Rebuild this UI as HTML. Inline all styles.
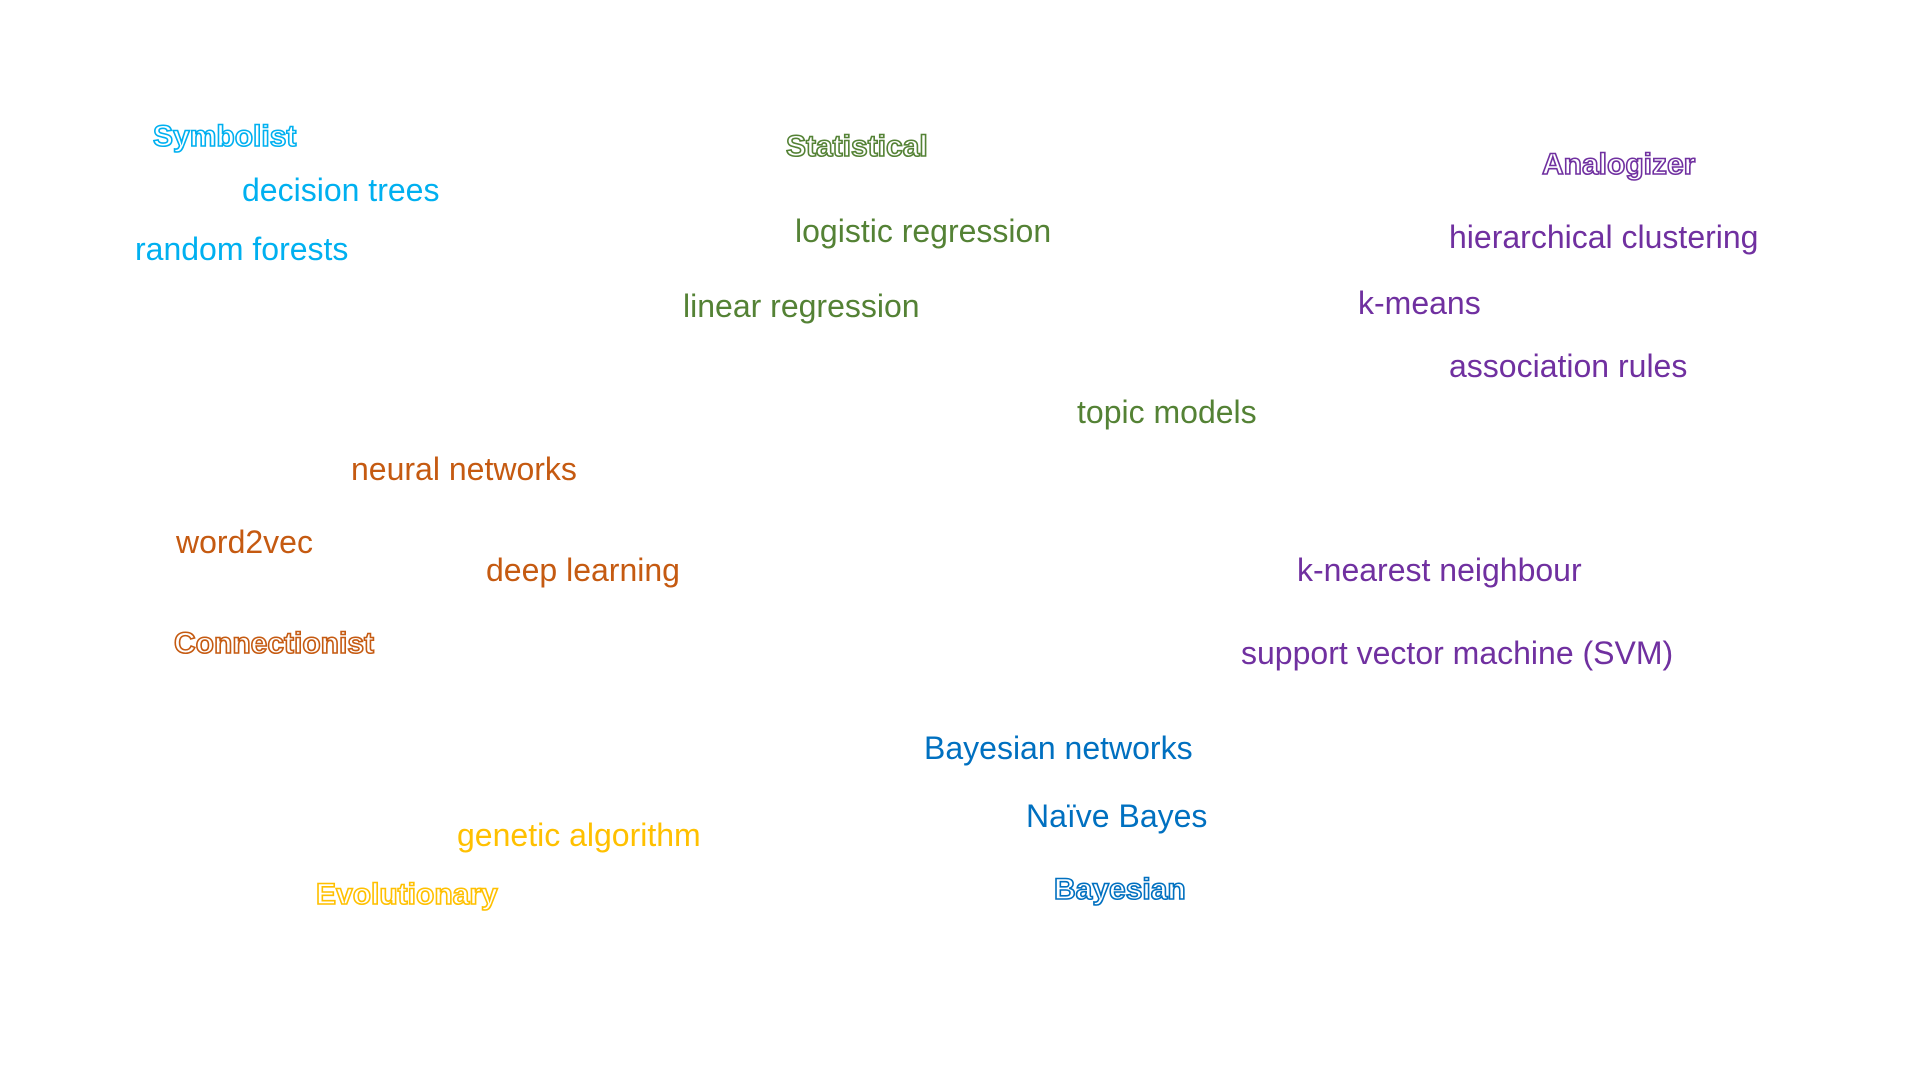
<!DOCTYPE html>
<html><head><meta charset="utf-8"><style>
body{margin:0;width:1920px;height:1080px;background:#fff;position:relative;overflow:hidden;font-family:"Liberation Sans",sans-serif}
div{position:absolute;font-size:32px;line-height:32px;white-space:nowrap;transform:translateY(-50%);margin-top:-2px}
.o{font-weight:bold;color:#fff;-webkit-text-stroke:1.6px currentColor;font-size:30px}
.c{color:#00B0F0}.g{color:#548235}.p{color:#7030A0}.r{color:#C55A11}.y{color:#FFC000}.b{color:#0070C0}
.o.c{-webkit-text-stroke-color:#00B0F0}.o.g{-webkit-text-stroke-color:#548235}.o.p{-webkit-text-stroke-color:#7030A0}.o.r{-webkit-text-stroke-color:#C55A11}.o.y{-webkit-text-stroke-color:#FFC000}.o.b{-webkit-text-stroke-color:#0070C0}
.o{color:#fff !important}
</style></head><body>
<div class="o c" style="left:153px;top:139px">Symbolist</div>
<div class="c" style="left:242px;top:192px">decision trees</div>
<div class="c" style="left:135px;top:251px">random forests</div>
<div class="o g" style="left:786px;top:149px">Statistical</div>
<div class="g" style="left:795px;top:233px">logistic regression</div>
<div class="g" style="left:683px;top:308px">linear regression</div>
<div class="g" style="left:1077px;top:414px">topic models</div>
<div class="o p" style="left:1542px;top:167px">Analogizer</div>
<div class="p" style="left:1449px;top:239px">hierarchical clustering</div>
<div class="p" style="left:1358px;top:305px">k-means</div>
<div class="p" style="left:1449px;top:368px">association rules</div>
<div class="p" style="left:1297px;top:572px">k-nearest neighbour</div>
<div class="p" style="left:1241px;top:655px">support vector machine (SVM)</div>
<div class="r" style="left:351px;top:471px">neural networks</div>
<div class="r" style="left:176px;top:544px">word2vec</div>
<div class="r" style="left:486px;top:572px">deep learning</div>
<div class="o r" style="left:174px;top:646px">Connectionist</div>
<div class="b" style="left:924px;top:750px">Bayesian networks</div>
<div class="b" style="left:1026px;top:818px">Naïve Bayes</div>
<div class="o b" style="left:1054px;top:892px">Bayesian</div>
<div class="y" style="left:457px;top:837px">genetic algorithm</div>
<div class="o y" style="left:316px;top:897px">Evolutionary</div>
</body></html>
